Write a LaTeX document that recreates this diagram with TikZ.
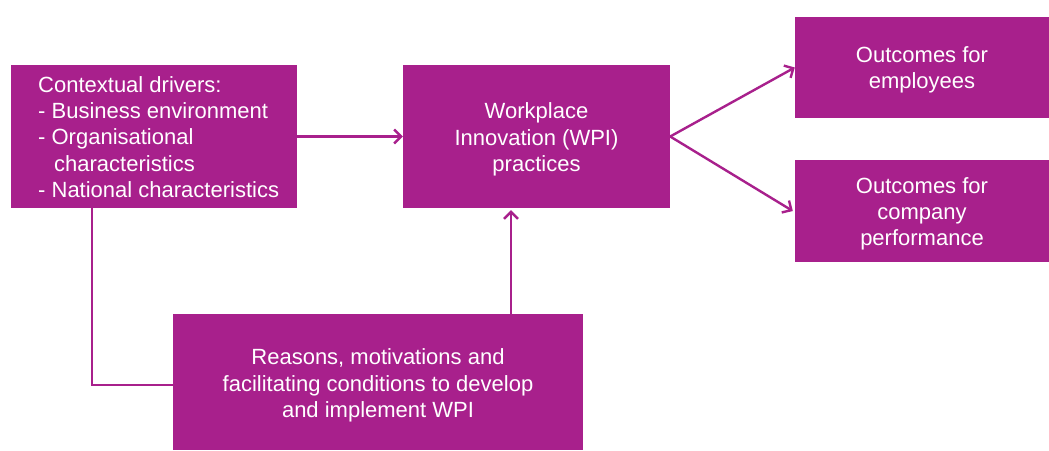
\documentclass[tikz,border=0pt]{standalone}
\usepackage{fontspec}
\setmainfont{Liberation Sans}
\usetikzlibrary{arrows.meta,calc}
\definecolor{wpi}{RGB}{168,32,140}
\begin{document}
\begin{tikzpicture}[x=1pt,y=-1pt,
  box/.style={fill=wpi,draw=none,inner sep=0pt},
  txt/.style={text=white,inner sep=0pt,align=center,
    font=\fontsize{22}{26.3}\selectfont},
  conn/.style={draw=wpi,line width=2.4pt},
  arr/.style={conn,-{Straight Barb[length=7pt,width=14pt,line width=2.4pt]}}]
\useasboundingbox (0,0) rectangle (1049,450);
\node[box,minimum width=286pt,minimum height=143pt] (A) at (154,136.5) {};
\node[txt,anchor=west,align=left] (At) at (38,137)
  {Contextual drivers:\\- Business environment\\- Organisational\\\hspace*{16pt}characteristics\\- National characteristics};
\node[box,minimum width=267pt,minimum height=143pt,
  label={[txt,yshift=-3pt]center:{Workplace\\Innovation (WPI)\\practices}}] (B) at (536.5,136.5) {};
\node[box,minimum width=254pt,minimum height=101pt,
  label={[txt,yshift=-2.5pt]center:{Outcomes for\\employees}}] (C) at (922,67.5) {};
\node[box,minimum width=254pt,minimum height=102pt,
  label={[txt,yshift=-3pt]center:{Outcomes for\\company\\performance}}] (D) at (922,211) {};
\node[box,minimum width=410pt,minimum height=136pt,
  label={[txt,yshift=-3.5pt]center:{Reasons, motivations and\\facilitating conditions to develop\\and implement WPI}}] (E) at (378,382) {};
\coordinate (ex) at (511,0);
\coordinate (ax) at (92,0);
\draw[arr] (A.east) -- (B.west);
\draw[arr] (B.east) -- (C.west);
\draw[arr] (B.east) -- ([xshift=-2pt]D.west);
\draw[arr] (E.north -| ex) -- ([yshift=-2pt]B.south -| ex);
\draw[conn] (A.south -| ax) |- ([yshift=-3pt]E.west);
\end{tikzpicture}
\end{document}
